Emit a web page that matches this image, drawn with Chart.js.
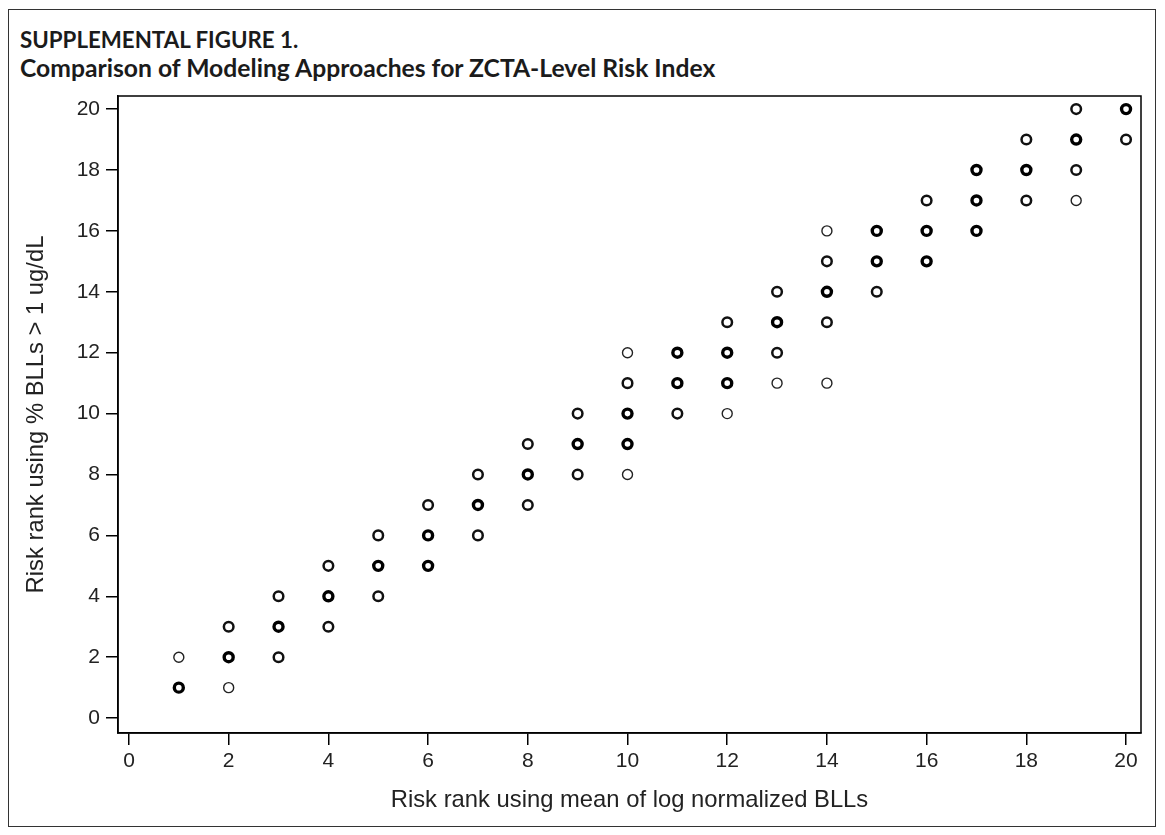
<!DOCTYPE html>
<html>
<head>
<meta charset="utf-8">
<script src="https://cdn.jsdelivr.net/npm/chart.js@4.4.1/dist/chart.umd.min.js"></script>
<style>
  html, body { margin: 0; padding: 0; background: #fff; width: 1165px; height: 835px; overflow: hidden; }
  #frame { position: absolute; left: 8px; top: 9px; width: 1148px; height: 818px; border: 1px solid #333; box-sizing: border-box; }
  .t { position: absolute; left: 20px; font-family: Lato, "Open Sans", sans-serif; font-weight: 700; color: #1b1b1b; white-space: nowrap; }
  #t1 { top: 26px; font-size: 22.3px; }
  #t2 { top: 53px; font-size: 24.7px; }
  #wrap { position: absolute; left: 0; top: 0; width: 1165px; height: 835px; }
</style>
</head>
<body>
<div id="frame"></div>
<div class="t" id="t1">SUPPLEMENTAL FIGURE 1.</div>
<div class="t" id="t2">Comparison of Modeling Approaches for ZCTA-Level Risk Index</div>
<div id="wrap"><canvas id="c" width="1165" height="835"></canvas></div>
<script>
// ---- Data (x = rank by mean log BLL, y = rank by % BLLs > 1 ug/dL)
// Points drawn with a thin outline (single ZCTA)
const singlePoints = [[1,2],[2,1],[10,12],[10,8],[12,10],[13,11],[14,16],[14,11],[19,17]];
// Points drawn with a medium outline (a few overlapping ZCTAs)
const fewPoints = [[2,3],[3,4],[3,2],[4,5],[4,3],[5,6],[5,4],[6,7],[7,8],[7,6],[8,9],[8,7],
  [9,10],[9,8],[10,11],[11,10],[12,13],[13,14],[13,12],[14,15],[14,13],[15,14],[16,17],
  [18,19],[18,17],[19,20],[19,18],[20,19]];
// Points drawn with a heavy outline (many overlapping ZCTAs)
const manyPoints = [[1,1],[2,2],[3,3],[4,4],[5,5],[6,6],[6,5],[7,7],[8,8],[9,9],[10,10],[10,9],
  [11,12],[11,11],[12,12],[12,11],[13,13],[14,14],[15,16],[15,15],[16,16],[16,15],[17,18],
  [17,17],[17,16],[18,18],[19,19],[20,20]];
const xTickValues = [0,2,4,6,8,10,12,14,16,18,20];
const yTickValues = [0,2,4,6,8,10,12,14,16,18,20];
const xTitle = 'Risk rank using mean of log normalized BLLs';
const yTitle = 'Risk rank using % BLLs > 1 ug/dL';

const toXY = arr => arr.map(p => ({x: p[0], y: p[1]}));

const framePlugin = {
  id: 'frameBox',
  afterDraw(chart) {
    const {ctx, chartArea: a} = chart;
    ctx.save();
    ctx.strokeStyle = '#000';
    ctx.lineWidth = 1.5;
    ctx.strokeRect(a.left, a.top, a.right - a.left, a.bottom - a.top);
    ctx.restore();
  }
};

const tickFont = {family: '"Liberation Sans", Arial, sans-serif', size: 21};
const titleFont = {family: '"Liberation Sans", Arial, sans-serif', size: 23.8};

new Chart(document.getElementById('c'), {
  type: 'scatter',
  data: {
    datasets: [
      {label: 'single', data: toXY(singlePoints), pointRadius: 5.0, pointBorderWidth: 1.4,
       pointBorderColor: '#222', pointBackgroundColor: '#fff'},
      {label: 'few', data: toXY(fewPoints), pointRadius: 4.8, pointBorderWidth: 2.5,
       pointBorderColor: '#111', pointBackgroundColor: '#fff'},
      {label: 'many', data: toXY(manyPoints), pointRadius: 4.5, pointBorderWidth: 3.4,
       pointBorderColor: '#000', pointBackgroundColor: '#fff'}
    ]
  },
  options: {
    responsive: false,
    animation: false,
    devicePixelRatio: 1,
    layout: {padding: {top: 96, right: 24, left: 0, bottom: 0}},
    plugins: {legend: {display: false}, tooltip: {enabled: false}, title: {display: false}},
    scales: {
      x: {
        type: 'linear', min: -0.22, max: 20.3,
        afterBuildTicks: s => { s.ticks = xTickValues.map(v => ({value: v})); },
        afterFit: s => { s.height = 102; },
        border: {display: true, color: '#000', width: 1.5},
        grid: {display: true, drawOnChartArea: false, drawTicks: true, tickLength: 12, color: '#000', lineWidth: 1.5},
        ticks: {font: tickFont, color: '#222', padding: 4, maxRotation: 0, autoSkip: false},
        title: {display: true, text: xTitle, font: titleFont, color: '#222', padding: {top: 0, bottom: 20}}
      },
      y: {
        type: 'linear', min: -0.49, max: 20.43,
        afterBuildTicks: s => { s.ticks = yTickValues.map(v => ({value: v})); },
        afterFit: s => { s.width = 118; },
        border: {display: true, color: '#000', width: 1.5},
        grid: {display: true, drawOnChartArea: false, drawTicks: true, tickLength: 12, color: '#000', lineWidth: 1.5},
        ticks: {font: tickFont, color: '#222', padding: 6, autoSkip: false},
        title: {display: true, text: yTitle, font: titleFont, color: '#222', padding: {top: 22, bottom: 0}}
      }
    }
  },
  plugins: [framePlugin]
});
</script>
</body>
</html>
